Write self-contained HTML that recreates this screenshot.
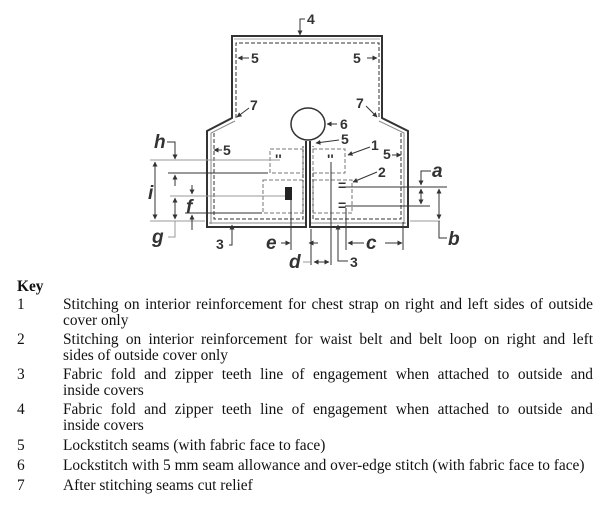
<!DOCTYPE html>
<html><head><meta charset="utf-8"><style>
body{margin:0;background:#fff;width:605px;height:507px;overflow:hidden;position:relative}
svg{position:absolute;left:0;top:0}
.k{position:absolute;font-family:"Liberation Serif",serif;font-size:15.4px;color:#111;white-space:nowrap;line-height:16px}
.t{position:absolute;left:63px;width:530px;font-family:"Liberation Serif",serif;font-size:15.4px;color:#111;line-height:16px;text-align:justify;text-align-last:justify;white-space:nowrap}
.L{font-family:"Liberation Sans",sans-serif;font-size:14px;font-weight:bold;fill:#333}
.I{font-family:"Liberation Sans",sans-serif;font-size:19px;font-weight:bold;font-style:italic;fill:#333}
</style></head><body>
<svg width="605" height="280" viewBox="0 0 605 280">
<defs><marker id="a" viewBox="0 0 10 10" refX="9" refY="5" markerWidth="5" markerHeight="5" orient="auto-start-reverse"><path d="M0,0L10,5L0,10z" fill="#333"/></marker></defs>
<g fill="none" stroke="#333">
<path d="M306,141 L306,227 L207,227 L207,131 L232,118 L232,36 L382,36 L382,118 L408,131 L408,227 L310,227 L310,141" stroke-width="2"/>
<path d="M211,224 L211,133 L235,121" stroke="#888" stroke-width="1"/>
<path d="M404,224 L404,133 L379,121" stroke="#888" stroke-width="1"/>
<line x1="234" y1="39" x2="380" y2="39" stroke="#aaa"/>
<line x1="209" y1="223" x2="305" y2="223" stroke="#888"/>
<line x1="311" y1="223" x2="406" y2="223" stroke="#888"/>
<g stroke-dasharray="4,2" stroke-width="1">
<path d="M236,118 L236,43 L379,43 L379,118"/>
<path d="M214,133 L214,219 L303,219 L303,146"/>
<path d="M401,133 L401,219 L313,219 L313,146"/>
<rect x="270" y="149" width="33" height="24" stroke="#777"/>
<rect x="313" y="149" width="32" height="24" stroke="#777"/>
<rect x="263" y="180" width="40" height="33" stroke="#777"/>
<rect x="313" y="180" width="39" height="33" stroke="#777"/>
</g>
<ellipse cx="308" cy="124" rx="17" ry="16" stroke-width="1.5"/>
<path d="M305,19 L300,19 L300,35" marker-end="url(#a)"/>
<line x1="249" y1="58" x2="238" y2="58" marker-end="url(#a)"/>
<line x1="367" y1="58" x2="377" y2="58" marker-end="url(#a)"/>
<line x1="249" y1="108" x2="237" y2="117" marker-end="url(#a)"/>
<line x1="366" y1="106" x2="377" y2="117" marker-end="url(#a)"/>
<line x1="337" y1="124" x2="327" y2="124" marker-end="url(#a)"/>
<line x1="339" y1="140" x2="316" y2="143" marker-end="url(#a)"/>
<line x1="370" y1="147" x2="348" y2="155" marker-end="url(#a)"/>
<line x1="377" y1="172" x2="353" y2="182" marker-end="url(#a)"/>
<line x1="222" y1="150" x2="214" y2="150" marker-end="url(#a)"/>
<line x1="392" y1="155" x2="401" y2="155" marker-end="url(#a)"/>
<path d="M229,245 L232,245 L232,225" marker-end="url(#a)"/>
<path d="M348,261 L338,261 L338,225" marker-end="url(#a)"/>
<line x1="150" y1="160" x2="280" y2="160" stroke="#999"/>
<line x1="168" y1="173" x2="268" y2="173"/>
<line x1="170" y1="196" x2="290" y2="196" stroke="#999"/>
<line x1="185" y1="213" x2="262" y2="213"/>
<line x1="150" y1="221" x2="205" y2="221" stroke="#999"/>
<line x1="410" y1="221" x2="440" y2="221" stroke="#999"/>
<line x1="345" y1="187" x2="447" y2="187"/>
<line x1="345" y1="206" x2="430" y2="206"/>
<path d="M167,142 L175,142 L175,159" marker-end="url(#a)"/>
<line x1="155" y1="162" x2="155" y2="219" marker-start="url(#a)" marker-end="url(#a)"/>
<line x1="175" y1="186" x2="175" y2="175" marker-end="url(#a)"/>
<line x1="192" y1="185" x2="192" y2="194" marker-end="url(#a)"/>
<line x1="192" y1="230" x2="192" y2="215" marker-end="url(#a)"/>
<line x1="175" y1="198" x2="175" y2="219" marker-start="url(#a)" marker-end="url(#a)"/>
<path d="M175,221 L175,237 L168,237" stroke="#999"/>
<line x1="421" y1="189" x2="421" y2="204" marker-start="url(#a)" marker-end="url(#a)"/>
<path d="M431,171 L421,171 L421,185" marker-end="url(#a)"/>
<line x1="439" y1="189" x2="439" y2="219" marker-start="url(#a)" marker-end="url(#a)"/>
<path d="M439,221 L439,238 L447,238"/>
<line x1="291" y1="198" x2="291" y2="250"/>
<line x1="331" y1="162" x2="331" y2="265"/>
<line x1="346" y1="208" x2="346" y2="250"/>
<line x1="403" y1="222" x2="403" y2="250"/>
<line x1="311" y1="229" x2="311" y2="265"/>
<line x1="281" y1="243" x2="290" y2="243" marker-end="url(#a)"/>
<line x1="318" y1="243" x2="309" y2="243" marker-end="url(#a)"/>
<line x1="348" y1="243" x2="364" y2="243" marker-start="url(#a)"/>
<line x1="385" y1="243" x2="402" y2="243" marker-end="url(#a)"/>
<line x1="314" y1="262" x2="329" y2="262" marker-start="url(#a)" marker-end="url(#a)"/>
<line x1="303" y1="262" x2="311" y2="262" stroke="#999"/>
</g>
<rect x="285" y="187" width="7" height="13" fill="#222"/>
<text x="275" y="164" class="L" font-size="11">''</text>
<text x="327" y="164" class="L" font-size="11">''</text>
<text x="338" y="190" class="L" font-size="12">=</text>
<text x="338" y="210" class="L" font-size="12">=</text>
<text x="307" y="24" class="L">4</text>
<text x="251" y="63" class="L">5</text>
<text x="353" y="63" class="L">5</text>
<text x="250" y="110" class="L">7</text>
<text x="356" y="108" class="L">7</text>
<text x="340" y="129" class="L">6</text>
<text x="341" y="144" class="L">5</text>
<text x="371" y="150" class="L">1</text>
<text x="378" y="177" class="L">2</text>
<text x="223" y="155" class="L">5</text>
<text x="383" y="159" class="L">5</text>
<text x="216" y="249" class="L">3</text>
<text x="350" y="267" class="L">3</text>
<text x="154" y="148" class="I">h</text>
<text x="148" y="199" class="I">i</text>
<text x="186" y="213" class="I">f</text>
<text x="152" y="243" class="I">g</text>
<text x="432" y="177" class="I">a</text>
<text x="448" y="245" class="I">b</text>
<text x="366" y="249" class="I">c</text>
<text x="289" y="268" class="I">d</text>
<text x="266" y="249" class="I">e</text>
</svg>
<div class="k" style="left:17px;top:279px;font-weight:bold">Key</div>
<div class="k" style="left:17px;top:297px">1</div><div class="t" style="top:297px">Stitching on interior reinforcement for chest strap on right and left sides of outside</div>
<div class="k" style="left:63px;top:313px">cover only</div>
<div class="k" style="left:17px;top:332px">2</div><div class="t" style="top:332px">Stitching on interior reinforcement for waist belt and belt loop on right and left</div>
<div class="k" style="left:63px;top:348px">sides of outside cover only</div>
<div class="k" style="left:17px;top:367px">3</div><div class="t" style="top:367px">Fabric fold and zipper teeth line of engagement when attached to outside and</div>
<div class="k" style="left:63px;top:383px">inside covers</div>
<div class="k" style="left:17px;top:402px">4</div><div class="t" style="top:402px">Fabric fold and zipper teeth line of engagement when attached to outside and</div>
<div class="k" style="left:63px;top:418px">inside covers</div>
<div class="k" style="left:17px;top:438px">5</div><div class="k" style="left:63px;top:438px">Lockstitch seams (with fabric face to face)</div>
<div class="k" style="left:17px;top:458px">6</div><div class="k" style="left:63px;top:458px">Lockstitch with 5 mm seam allowance and over-edge stitch (with fabric face to face)</div>
<div class="k" style="left:17px;top:478px">7</div><div class="k" style="left:63px;top:478px">After stitching seams cut relief</div>
</body></html>
